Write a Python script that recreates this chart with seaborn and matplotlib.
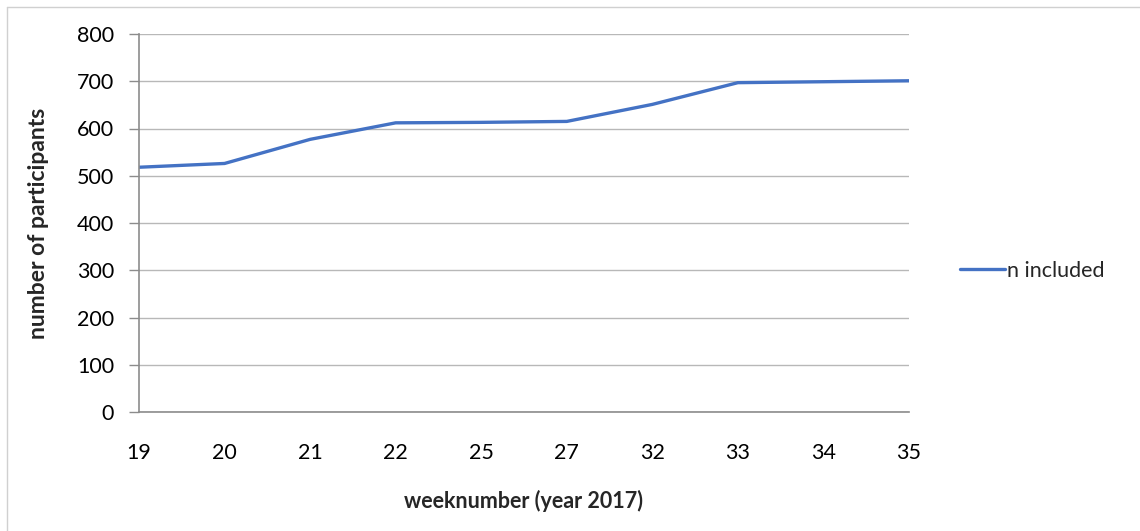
import matplotlib
matplotlib.use("Agg")
import matplotlib.pyplot as plt
import seaborn as sns
import pandas as pd
from matplotlib.lines import Line2D

weeks = ["19", "20", "21", "22", "25", "27", "32", "33", "34", "35"]
n_included = [518, 526, 577, 612, 613, 615, 651, 697, 699, 701]
y_ticks = [0, 100, 200, 300, 400, 500, 600, 700, 800]

df = pd.DataFrame({"week": weeks, "n included": n_included})
df["pos"] = range(len(weeks))

sns.set_theme(style="white")
plt.rcParams["font.family"] = ["Lato", "DejaVu Sans"]

fig = plt.figure(figsize=(11.4, 5.31), dpi=100)
ax = fig.add_axes([139/1140, 1-412/531, 770/1140, 378/531])

sns.lineplot(data=df, x="pos", y="n included", ax=ax, color="#4472C4",
             linewidth=2.4, label="n included", legend=False)

ax.set_xlim(0, len(weeks)-1)
ax.set_ylim(0, 800)
ax.set_xticks(df["pos"])
ax.set_xticklabels(weeks)
ax.set_yticks(y_ticks)
ax.yaxis.grid(True, color="#B8B8B8", linewidth=1)
ax.xaxis.grid(False)
for s in ["top", "right"]:
    ax.spines[s].set_visible(False)
for s in ["left", "bottom"]:
    ax.spines[s].set_color("#8C8C8C")
    ax.spines[s].set_linewidth(1.2)
ax.tick_params(axis="y", length=7, color="#8C8C8C", width=1, pad=11,
               labelsize=15.5, labelcolor="black", left=True)
ax.tick_params(axis="x", length=0, pad=22, labelsize=15.5, labelcolor="black")
ax.set_xlabel("weeknumber (year 2017)", fontsize=15.5, fontweight="bold",
              labelpad=20)
ax.set_ylabel("number of participants", fontsize=16.5, fontweight="bold",
              labelpad=20)

handle = Line2D([], [], color="#4472C4", linewidth=2.4)
ax.legend([handle], ["n included"], loc="center left",
          bbox_to_anchor=(960/1140, 1-271/531), bbox_transform=fig.transFigure,
          frameon=False, fontsize=15.5, handlelength=2.1, handletextpad=0.1,
          borderpad=0, borderaxespad=0)

# outer chart frame
fig.add_artist(Line2D([7/1140, 7/1140], [0, 1-7/531], transform=fig.transFigure,
                      color="#D0D0D0", linewidth=1))
fig.add_artist(Line2D([7/1140, 1], [1-7/531, 1-7/531], transform=fig.transFigure,
                      color="#D0D0D0", linewidth=1))

fig.savefig("out.png", dpi=100)
